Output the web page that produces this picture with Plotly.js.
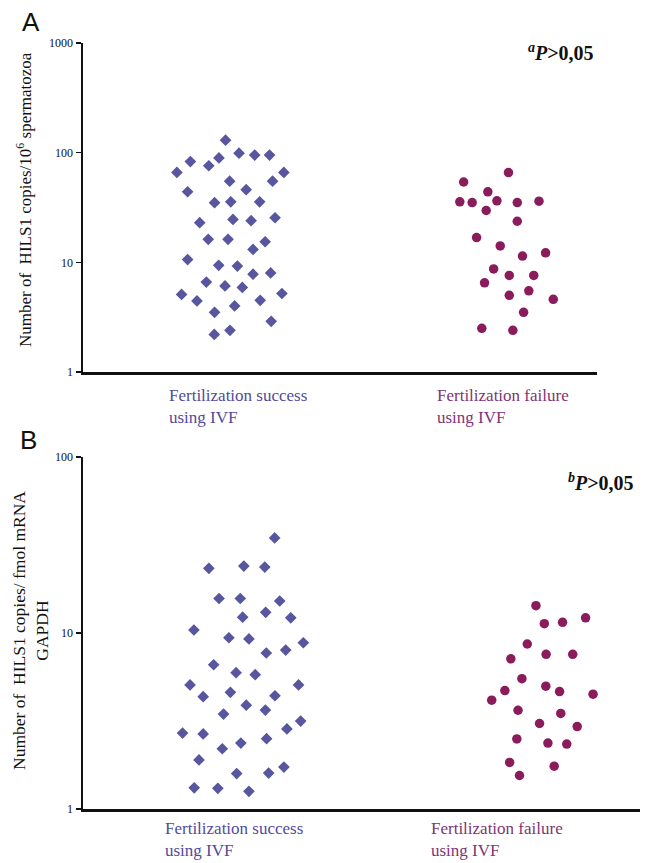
<!DOCTYPE html>
<html>
<head>
<meta charset="utf-8">
<script src="https://cdn.plot.ly/plotly-3.0.1.min.js"></script>
<style>html,body{margin:0;padding:0;background:#fff;}#chart{width:647px;height:863px;}</style>
</head>
<body>
<div id="chart"></div>
<script>
// ---- Data ----
const categories = ['Fertilization success', 'Fertilization failure'];
const categorySub = 'using IVF';
const logTicks = [1, 10, 100, 1000];
const logTickText = ['1', '10', '100', '1000'];

// Panel A: HILS1 copies / 10^6 spermatozoa
const successA = [130, 83, 99, 95, 95, 89.5, 76, 66, 66, 55, 55, 46, 44, 35, 35.6, 35.6, 23, 24.6, 24, 25.5,
  16.2, 16.2, 15.4, 13.1, 10.6, 9.4, 9.25, 8.0, 7.8, 6.6, 6.1, 5.9, 5.1, 5.2, 4.45, 4.5, 4.0, 3.5, 2.9, 2.4, 2.2];
const successAJitter = [-0.016, -0.144, 0.033, 0.090, 0.144, -0.040, -0.077, -0.193, 0.196, 0.155, -0.001, 0.059,
  -0.154, -0.056, 0.003, 0.108, -0.110, 0.011, 0.077, 0.164, -0.079, -0.007, 0.128, 0.084, -0.154, -0.041, 0.027,
  0.148, 0.084, -0.086, -0.018, 0.045, -0.176, 0.189, -0.120, 0.110, 0.017, -0.056, 0.150, 0.000, -0.057];
const failureA = [65.8, 54, 44, 35.6, 35.1, 36.4, 35.1, 36.1, 29.7, 23.7, 16.8, 14.1, 11.4, 12.2, 8.7, 7.6, 7.6,
  6.5, 5.0, 5.5, 4.6, 3.5, 2.5, 2.4];
const failureAJitter = [0.013, -0.150, -0.062, -0.164, -0.119, -0.029, 0.045, 0.124, -0.068, 0.045, -0.103, -0.017,
  0.064, 0.148, -0.041, 0.016, 0.105, -0.074, 0.016, 0.087, 0.176, 0.068, -0.084, 0.029];

// Panel B: HILS1 copies / fmol mRNA GAPDH
const successB = [34.7, 23.3, 24.0, 23.7, 15.7, 15.7, 15.2, 13.1, 12.3, 12.2, 10.4, 9.4, 9.25, 8.8, 7.7, 8.0, 6.6,
  5.95, 5.8, 5.07, 5.07, 4.35, 4.6, 4.4, 3.89, 3.65, 3.46, 3.16, 2.85, 2.70, 2.67, 2.51, 2.37, 2.20, 1.90, 1.59,
  1.60, 1.73, 1.32, 1.31, 1.26];
const successBJitter = [0.106, -0.114, 0.003, 0.073, -0.080, -0.009, 0.123, 0.076, -0.001, 0.160, -0.164, -0.047,
  0.020, 0.202, 0.078, 0.143, -0.098, -0.023, 0.041, -0.177, 0.186, -0.133, -0.042, 0.107, 0.011, 0.075, -0.065,
  0.193, 0.147, -0.202, -0.133, 0.079, -0.007, -0.069, -0.147, -0.021, 0.086, 0.137, -0.163, -0.084, 0.020];
const failureB = [14.3, 11.3, 11.5, 12.2, 8.66, 7.13, 7.57, 7.57, 5.5, 4.71, 4.99, 4.65, 4.15, 4.49, 3.64, 3.49,
  3.06, 2.94, 2.50, 2.37, 2.34, 1.84, 1.75, 1.55];
const failureBJitter = [-0.020, 0.008, 0.069, 0.146, -0.049, -0.104, 0.014, 0.103, -0.067, -0.124, 0.013, 0.059,
  -0.168, 0.171, -0.080, 0.063, -0.008, 0.118, -0.084, 0.020, 0.083, -0.108, 0.041, -0.075];

// ---- Styles ----
const blue = 'rgb(88,86,158)';
const plum = 'rgb(138,28,92)';
const blueText = 'rgb(82,74,156)';
const plumText = 'rgb(128,52,118)';
const serif = 'Liberation Serif, Times New Roman, serif';
const sans = 'Liberation Sans, Arial, sans-serif';

function xs(center, jit) { return jit.map(j => center + j); }

const traces = [
  {x: xs(1, successAJitter), y: successA, xaxis: 'x', yaxis: 'y', type: 'scatter', mode: 'markers',
   name: categories[0], marker: {symbol: 'diamond', size: 9, color: blue}},
  {x: xs(2, failureAJitter), y: failureA, xaxis: 'x', yaxis: 'y', type: 'scatter', mode: 'markers',
   name: categories[1], marker: {symbol: 'circle', size: 9.5, color: plum}},
  {x: xs(1, successBJitter), y: successB, xaxis: 'x2', yaxis: 'y2', type: 'scatter', mode: 'markers',
   name: categories[0], marker: {symbol: 'diamond', size: 9, color: blue}},
  {x: xs(2, failureBJitter), y: failureB, xaxis: 'x2', yaxis: 'y2', type: 'scatter', mode: 'markers',
   name: categories[1], marker: {symbol: 'circle', size: 9.5, color: plum}}
];

const W = 647, H = 863;
const px = v => v / W, py = v => 1 - v / H;

const xBase = {showline: true, linecolor: '#111', linewidth: 2.5, showticklabels: false, ticks: '',
  showgrid: false, zeroline: false, fixedrange: true};
const yBase = {type: 'log', showline: true, linecolor: '#111', linewidth: 2.5, ticks: 'outside', ticklen: 5,
  tickwidth: 1.5, tickcolor: '#111', tickvals: logTicks, ticktext: logTickText, showgrid: false, zeroline: false,
  tickfont: {family: serif, size: 12, color: '#111'}};

function catLabel(xref, x, y, txt, color) {
  return {xref: xref, yref: 'paper', x: x, y: y, xanchor: 'center', yanchor: 'top', align: 'left',
    showarrow: false, text: txt + '<br>' + categorySub, font: {family: serif, size: 17, color: color}};
}

const layout = {
  width: W, height: H, autosize: false,
  margin: {l: 0, r: 0, t: 0, b: 0},
  paper_bgcolor: '#fff', plot_bgcolor: '#fff',
  showlegend: false,
  font: {family: serif},
  xaxis: Object.assign({}, xBase, {domain: [px(83), px(597)], range: [0.4655, 2.335], anchor: 'y'}),
  yaxis: Object.assign({}, yBase, {domain: [py(372), py(43)], range: [0, 3], anchor: 'x'}),
  xaxis2: Object.assign({}, xBase, {domain: [px(83), px(640)], range: [0.465, 2.328], anchor: 'y2'}),
  yaxis2: Object.assign({}, yBase, {domain: [py(809), py(457)], range: [0, 2], anchor: 'x2'}),
  annotations: [
    {xref: 'paper', yref: 'paper', x: px(31), y: py(22), xanchor: 'center', yanchor: 'middle', showarrow: false,
     text: 'A', font: {family: sans, size: 26, color: '#111'}},
    {xref: 'paper', yref: 'paper', x: px(28), y: py(440), xanchor: 'center', yanchor: 'middle', showarrow: false,
     text: 'B', font: {family: sans, size: 26, color: '#111'}},
    {xref: 'paper', yref: 'paper', x: px(24), y: py(200), xanchor: 'center', yanchor: 'middle', showarrow: false,
     textangle: -90, text: 'Number of  HILS1 copies/10<sup>6</sup> spermatozoa',
     font: {family: serif, size: 17, color: '#111'}},
    {xref: 'paper', yref: 'paper', x: px(30), y: py(631), xanchor: 'center', yanchor: 'middle', showarrow: false,
     textangle: -90, text: 'Number of  HILS1 copies/ fmol mRNA<br>GAPDH',
     font: {family: serif, size: 17.5, color: '#111'}},
    {xref: 'paper', yref: 'paper', x: px(596), y: py(52), xanchor: 'right', yanchor: 'middle', showarrow: false,
     text: '<b><sup><i>a</i></sup><i>P</i>&gt;0,05</b>', font: {family: serif, size: 20, color: '#111'}},
    {xref: 'paper', yref: 'paper', x: px(636), y: py(482), xanchor: 'right', yanchor: 'middle', showarrow: false,
     text: '<b><sup><i>b</i></sup><i>P</i>&gt;0,05</b>', font: {family: serif, size: 20, color: '#111'}},
    catLabel('x', 1.029, py(384), categories[0], blueText),
    catLabel('x', 1.993, py(384), categories[1], plumText),
    catLabel('x2', 0.969, py(817), categories[0], blueText),
    catLabel('x2', 1.85, py(817), categories[1], plumText)
  ]
};

Plotly.newPlot('chart', traces, layout, {displayModeBar: false, staticPlot: true});
</script>
</body>
</html>
